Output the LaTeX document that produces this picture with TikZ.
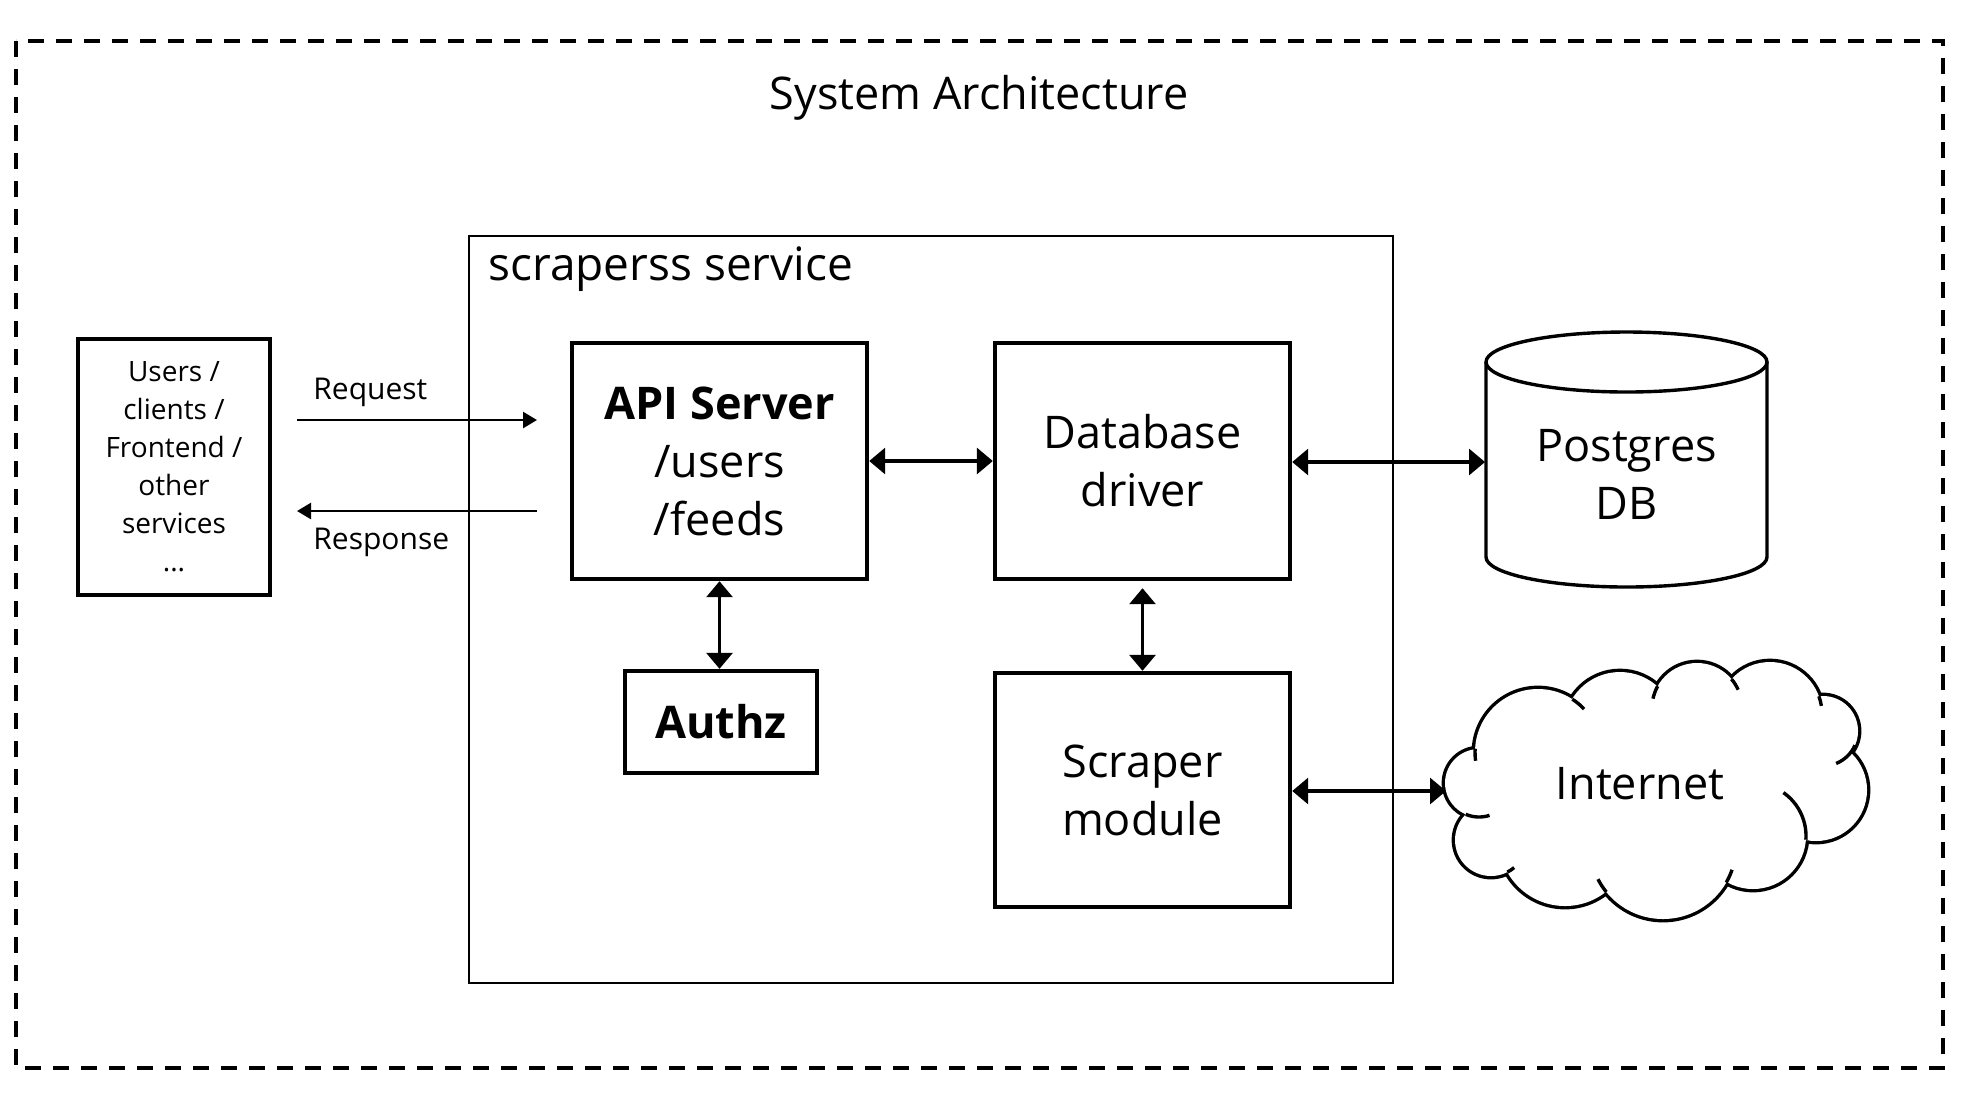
\documentclass[tikz,border=0pt]{standalone}
\usepackage{fontspec}
\setmainfont{Open Sans}
\usetikzlibrary{arrows.meta}
\begin{document}
\begin{tikzpicture}[x=0.5pt,y=-0.5pt,
  bigfont/.style={font=\fontsize{22.5}{29}\selectfont},
  box/.style={draw,line width=2.2pt,minimum width=147.5pt,minimum height=118pt,inner sep=0pt,align=center,bigfont},
  conn/.style={line width=1.6pt,{Triangle[length=8pt,width=13pt]}-{Triangle[length=8pt,width=13pt]}},
  oneway/.style={line width=1.3pt,-{Triangle[length=7pt,width=8pt]}},
  lbl/.style={font=\fontsize{15}{19}\selectfont,anchor=west,inner sep=0pt},
  cloudline/.style={line width=1.7pt}]
\fill[white] (0,0) rectangle (1968,1100);
\useasboundingbox (0,0) rectangle (1968,1100);
% outer frame
\draw[line width=2pt,dash pattern=on 8pt off 6pt] (16,41) rectangle (1943,1068);
\node[font=\fontsize{22.5}{27}\selectfont] (title) at (979,98) {System Architecture};
% service box
\node[draw,line width=0.6pt,minimum width=462pt,minimum height=373.5pt,inner sep=0pt] (svc) at (931,609.5) {};
\node[font=\fontsize{23}{27}\selectfont,anchor=base west,inner sep=0pt] (svclbl) at (488,280) {scraperss service};
% users
\node[draw,line width=2.2pt,minimum width=96pt,minimum height=128pt,inner sep=0pt,align=center,font=\fontsize{14}{19}\selectfont] (users) at (174,467) {Users /\\clients /\\Frontend /\\other\\services\\...};
\coordinate (reqS) at (297,420);
\coordinate (reqE) at (537,420);
\coordinate (resS) at (537,511);
\coordinate (resE) at (297,511);
\draw[oneway] (reqS) -- (reqE);
\draw[oneway] (resS) -- (resE);
\node[lbl] (req) at (313,392) {Request};
\node[lbl] (res) at (313,542) {Response};
% boxes
\node[box] (api) at (719.5,461) {\textbf{API Server}\\/users\\/feeds};
\node[box] (dbd) at (1142.5,461) {Database\\driver};
\node[draw,line width=2.2pt,minimum width=96pt,minimum height=51pt,inner sep=0pt,font=\bfseries\fontsize{22.5}{29}\selectfont] (authz) at (721,722) {Authz};
\node[box,minimum height=117pt] (scr) at (1142.5,790) {Scraper\\module};
% postgres cylinder
\draw[line width=1.7pt] (1486,362) -- (1486,557) arc[start angle=180,end angle=0,x radius=140.5,y radius=30] -- (1767,362);
\draw[line width=1.7pt] (1626.5,362) ellipse[x radius=140.5,y radius=30];
\node[bigfont,align=center,inner sep=0pt] (pg) at (1626.5,474) {Postgres\\DB};
\coordinate (pgW) at (1485,462);
% cloud
\foreach \cx/\cy/\r in {1479/783/34,1491/840/36,1565/840/66,1663/846/73,1753/836/53,1816/790/51,1823/731/35,1770/714/52,1697/708/45,1620/728/56,1538/752/63}
  \draw[line width=3.4pt] (\cx,\cy) circle[radius=\r];
\foreach \cx/\cy/\r in {1479/783/34,1491/840/36,1565/840/66,1663/846/73,1753/836/53,1816/790/51,1823/731/35,1770/714/52,1697/708/45,1620/728/56,1538/752/63}
  \fill[white] (\cx,\cy) circle[radius=\r];
\fill[white] (1479,783) -- (1491,840) -- (1565,840) -- (1663,846) -- (1753,836) -- (1816,790) -- (1823,731) -- (1770,714) -- (1697,708) -- (1620,728) -- (1538,752) -- cycle;
\foreach \cx/\cy/\r/\a/\b in {1538/752/63/183/172, 1479/783/34/113/72, 1491/840/36/63/50, 1663/846/73/141/153, 1663/846/73/30/19, 1753/836/53/4/-55, 1823/731/35/24/68, 1770/714/52/-20/-9, 1697/708/45/-40/-24, 1697/708/45/209/192, 1538/752/63/-57/-43}
  \draw[cloudline] ([shift={(\cx,\cy)}]\a:\r) arc[start angle=\a,end angle=\b,radius=\r];
\node[bigfont,inner sep=0pt] (inet) at (1640,784) {Internet};
\coordinate (cloudW) at (1446,791);
% connectors
\draw[conn] (api) -- (dbd);
\draw[conn] (dbd.east |- pgW) -- (pgW);
\draw[conn] (api.south) -- (api.south |- authz.north);
\draw[conn] ([yshift=-3.5pt]dbd.south) -- (scr.north);
\draw[conn] (scr.east |- cloudW) -- (cloudW);
\end{tikzpicture}
\end{document}
